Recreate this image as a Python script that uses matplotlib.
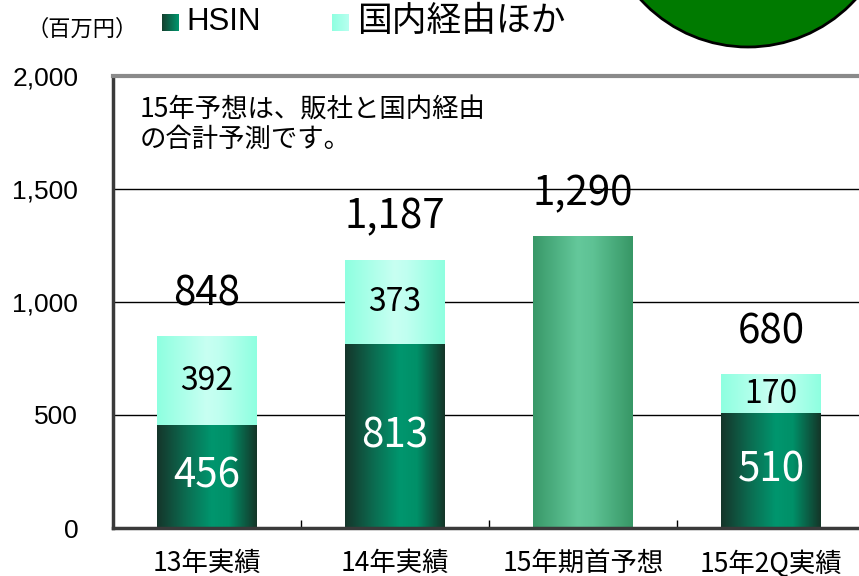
import numpy as np
import matplotlib.pyplot as plt
from matplotlib.colors import LinearSegmentedColormap
from matplotlib.patches import Ellipse

plt.rcParams['font.family'] = ['Noto Sans CJK JP', 'DejaVu Sans']

categories = ["13年実績", "14年実績", "15年期首予想", "15年2Q実績"]
hsin       = [456, 813, 0, 510]
domestic   = [392, 373, 0, 170]
forecast   = [0, 0, 1290, 0]
totals     = [848, 1187, 1290, 680]
total_labels = ["848", "1,187", "1,290", "680"]
yticks     = [0, 500, 1000, 1500, 2000]

# horizontal "cylinder" shading for the bars
cm_dark = LinearSegmentedColormap.from_list(
    "dark", [(0, "#15352a"), (0.3, "#0b6e52"), (0.55, "#00966e"),
             (0.72, "#009068"), (1, "#143528")])
cm_aqua = LinearSegmentedColormap.from_list(
    "aqua", [(0, "#8effe0"), (0.5, "#c8fff2"), (0.62, "#c0fff0"), (1, "#8effe0")])
cm_mid = LinearSegmentedColormap.from_list(
    "mid", [(0, "#389868"), (0.45, "#64c89b"), (0.6, "#5ec294"), (1, "#379766")])
grad = np.linspace(0, 1, 256).reshape(1, -1)

fig = plt.figure(figsize=(8.59, 5.76), dpi=100)
ax = fig.add_axes([113/859, 48/576, 752/859, 452/576])

x = np.arange(len(categories))
w = 0.53


def shade(bars, cmap):
    for b in bars:
        if b.get_height() == 0:
            continue
        x0, y0 = b.get_x(), b.get_y()
        im = ax.imshow(grad, cmap=cmap, aspect="auto", zorder=2,
                       extent=[x0, x0 + b.get_width(), y0, y0 + b.get_height()])
        im.set_clip_path(b)
        b.set_facecolor("none")


b1 = ax.bar(x, hsin, w, zorder=2, linewidth=0)
b2 = ax.bar(x, domestic, w, bottom=hsin, zorder=2, linewidth=0)
b3 = ax.bar(x, forecast, w, zorder=2, linewidth=0)
shade(b1, cm_dark)
shade(b2, cm_aqua)
shade(b3, cm_mid)

# labels
for i in range(len(categories)):
    if hsin[i]:
        ax.text(x[i], hsin[i] / 2, str(hsin[i]), color="white", fontsize=29,
                ha="center", va="center", zorder=4)
    if domestic[i]:
        ax.text(x[i], hsin[i] + domestic[i] / 2, str(domestic[i]), color="black",
                fontsize=23, ha="center", va="center", zorder=4)
    ax.annotate(total_labels[i], (x[i], totals[i]), xytext=(0, 16),
                textcoords="offset points", ha="center", va="bottom",
                fontsize=29, zorder=4)

ax.set_xlim(-0.5, 3.5)
ax.set_ylim(0, 2000)
ax.set_yticks(yticks)
ax.set_yticklabels([f"{v:,}" for v in yticks], family="Liberation Sans", fontsize=19)
ax.tick_params(axis="y", length=0, pad=25)
ax.set_xticks(x)
ax.set_xticklabels(categories, fontsize=19)
ax.tick_params(axis="x", length=0, pad=16)
ax.set_xticks(x[:-1] + 0.5, minor=True)
ax.tick_params(axis="x", which="minor", direction="in", length=6, width=1, color="black")
ax.yaxis.grid(True, color="black", linewidth=1)
ax.set_axisbelow(True)
for s in ["left", "bottom"]:
    ax.spines[s].set_color("#3a3a3a")
    ax.spines[s].set_linewidth(2.5)
ax.spines["top"].set_color("#8a8a8a")
ax.spines["top"].set_linewidth(3)
ax.spines["right"].set_visible(False)

# note in plot
fig.text(140/859, 1 - 97/576, "15年予想は、販社と国内経由\nの合計予測です。",
         fontsize=19, va="top", ha="left", linespacing=1.1)

# unit + legend
fig.text(26/859, 1 - 29/576, "（百万円）", fontsize=16, va="center", ha="left")
lg1 = fig.add_axes([162/859, 1 - 31/576, 17/859, 17/576])
lg1.imshow(grad, cmap=LinearSegmentedColormap.from_list("lg", ["#15402e", "#00966e"]),
           aspect="auto")
lg1.axis("off")
fig.text(186/859, 1 - 22/576, "HSIN", family="Liberation Sans", fontsize=22.5,
         va="center", ha="left")
lg2 = fig.add_axes([332/859, 1 - 31/576, 17/859, 17/576])
lg2.imshow(grad, cmap=LinearSegmentedColormap.from_list("lg2", ["#8effe0", "#b8fff0"]),
           aspect="auto")
lg2.axis("off")
fig.text(357/859, 1 - 22/576, "国内経由ほか", fontsize=25, va="center", ha="left")

# green disc cut by the top edge
fig.add_artist(Ellipse((748/859, (576 + 98)/576), 290/859, 290/576,
                       transform=fig.transFigure, facecolor="#007a00",
                       edgecolor="black", linewidth=2))

fig.savefig("out.png", dpi=100)
